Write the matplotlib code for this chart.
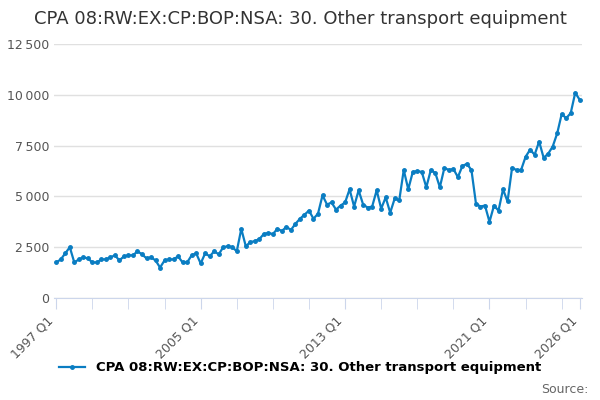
import numpy as np
import matplotlib.pyplot as plt
from matplotlib.ticker import FuncFormatter

values = [1750, 1900, 2200, 2500, 1750, 1900, 2000, 1950, 1750, 1750, 1900, 1900,
          2000, 2100, 1850, 2050, 2100, 2100, 2300, 2150, 1950, 2000, 1850, 1500,
          1850, 1900, 1900, 2050, 1750, 1750, 2100, 2200, 1700, 2200, 2050, 2300,
          2150, 2500, 2550, 2500, 2300, 3400, 2550, 2750, 2800, 2900, 3150, 3200,
          3150, 3400, 3300, 3500, 3350, 3650, 3900, 4100, 4300, 3900, 4150, 5050,
          4600, 4700, 4350, 4550, 4700, 5350, 4500, 5300, 4600, 4450, 4500, 5300,
          4400, 4950, 4200, 4900, 4800, 6300, 5350, 6200, 6250, 6200, 5450, 6300,
          6150, 5450, 6400, 6300, 6350, 5950, 6500, 6600, 6300, 4650, 4500, 4550,
          3750, 4550, 4300, 5350, 4750, 6400, 6300, 6300, 6950, 7300, 7050, 7700,
          6900, 7100, 7450, 8100, 9050, 8850, 9100, 10100, 9750]
start_year = 1997
label_years = [1997, 2005, 2013, 2021, 2026]
title = "CPA 08:RW:EX:CP:BOP:NSA: 30. Other transport equipment"

x = np.arange(len(values))
blue = "#0a7dc2"

fig, ax = plt.subplots(figsize=(6, 4), dpi=100)
fig.subplots_adjust(left=0.09, right=0.97, top=0.89, bottom=0.255)
ax.plot(x, values, color=blue, lw=1.6, marker='o', ms=2.5, label=title)

ax.set_ylim(0, 12500)
ax.set_yticks(np.arange(0, 12501, 2500))
ax.yaxis.set_major_formatter(FuncFormatter(lambda v, p: f"{int(v):,}".replace(",", "\u2009")))
ax.grid(axis='y', color='#e0e0e0', lw=1)
ax.set_xlim(-0.5, len(values) - 0.5)
ax.set_xticks([(y - start_year) * 4 for y in label_years])
ax.set_xticklabels([f"{y} Q1" for y in label_years], rotation=45, ha='right')
ax.set_xticks([(y - start_year) * 4 for y in range(1999, 2026, 2)], minor=True)
ax.tick_params(axis='x', which='both', length=8, color='#ccd6eb', labelsize=9, labelcolor='#555555')
ax.tick_params(axis='y', length=0, labelsize=9, labelcolor='#555555')
for s in ['top', 'right', 'left']:
    ax.spines[s].set_visible(False)
ax.spines['bottom'].set_color('#ccd6eb')

fig.suptitle(title, fontsize=13, color='#333333', y=0.975)
fig.legend(loc='lower center', bbox_to_anchor=(0.5, 0.035), frameon=False,
           prop={'weight': 'bold', 'size': 9.5})
fig.text(0.98, 0.01, "Source:", ha='right', va='bottom', fontsize=9, color='#666666')
fig.savefig("out.png")
